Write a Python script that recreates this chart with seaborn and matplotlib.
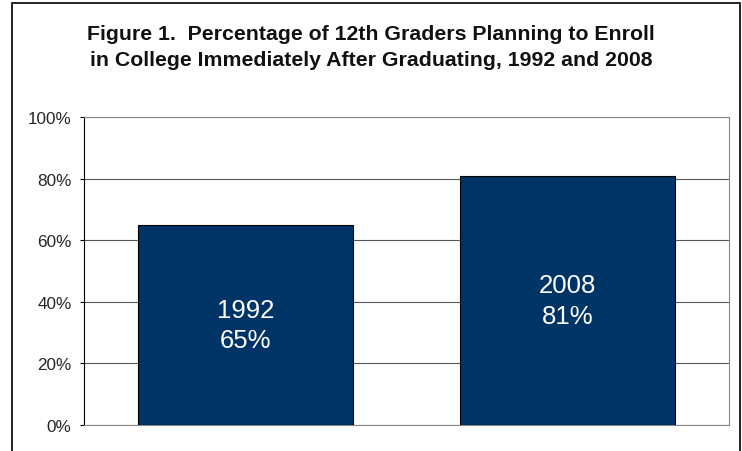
import matplotlib
matplotlib.use("Agg")
import matplotlib.pyplot as plt
import seaborn as sns
import pandas as pd
from matplotlib.patches import Rectangle
from matplotlib.ticker import FuncFormatter

# chart data
years = ["1992", "2008"]
pct_values = [65, 81]
y_ticks = [0, 20, 40, 60, 80, 100]

sns.set_theme(style="white")
plt.rcParams['font.family'] = ['Liberation Sans', 'DejaVu Sans']

df = pd.DataFrame({"year": years, "pct": pct_values})

fig = plt.figure(figsize=(7.42, 4.52), dpi=100)
ax = fig.add_axes([84 / 742, 1 - 426 / 452, (729 - 84) / 742, (426 - 118) / 452])

sns.barplot(data=df, x="year", y="pct", color="#003366", width=0.667,
            edgecolor="black", linewidth=0.8, saturation=1, ax=ax, zorder=3)

ax.set_ylim(0, 100)
ax.set_yticks(y_ticks)
ax.yaxis.set_major_formatter(FuncFormatter(lambda v, p: f"{v:.0f}%"))
ax.tick_params(axis="y", direction="out", length=3, width=0.8, color="black",
               labelsize=12.3, pad=6, left=True)
ax.set_xticks([])
ax.set_xlabel("")
ax.set_ylabel("")
ax.grid(axis="y", color="#555555", linewidth=0.8, zorder=0)
ax.grid(axis="x", visible=False)
for side in ["top", "right", "bottom"]:
    ax.spines[side].set_color("#888888")
    ax.spines[side].set_linewidth(0.8)
ax.spines["left"].set_color("black")
ax.spines["left"].set_linewidth(0.8)

# labels inside bars
for i, (yr, v) in enumerate(zip(years, pct_values)):
    ax.text(i, v / 2, f"{yr}\n{v}%", ha="center", va="center", color="white",
            fontsize=18.5, linespacing=1.35, zorder=4)

fig.text(0.5, 1 - 47.5 / 452, "Figure 1.  Percentage of 12th Graders Planning to Enroll\n"
         "in College Immediately After Graduating, 1992 and 2008",
         ha="center", va="center", fontsize=15.3, fontweight="bold", linespacing=1.5,
         color="#111111")

# outer frame of the figure
fig.patches.append(Rectangle((12 / 742, -0.05), (740 - 12) / 742, 1.05 - 4 / 452,
                             transform=fig.transFigure, fill=False,
                             edgecolor="black", linewidth=1.2))

fig.savefig("out.png", dpi=100)
